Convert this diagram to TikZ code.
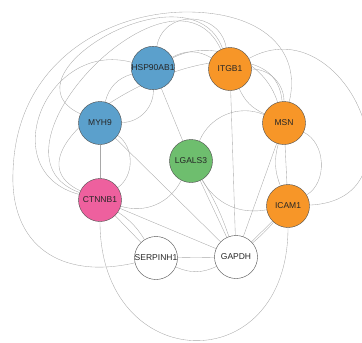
\documentclass[tikz,border=0pt]{standalone}
\usepackage{fontspec}
\setmainfont{Liberation Sans}
\usetikzlibrary{backgrounds}
\definecolor{nwBlue}{HTML}{5BA0CC}
\definecolor{nwOrange}{HTML}{F79628}
\definecolor{nwGreen}{HTML}{6EBE6E}
\definecolor{nwPink}{HTML}{EE609E}
\definecolor{nwLine}{HTML}{A8A8A8}
\definecolor{nwRim}{HTML}{4A4A4A}
\tikzset{
  gene/.style     ={circle,draw=nwRim,line width=0.4pt,minimum size=43pt,inner sep=0pt,
                    font=\fontsize{8.5}{9}\selectfont,text=black!85},
  geneBlue/.style ={gene,fill=nwBlue},
  geneOrange/.style={gene,fill=nwOrange},
  geneGreen/.style={gene,fill=nwGreen},
  genePink/.style ={gene,fill=nwPink},
  genePlain/.style={gene,fill=white},
  link/.style     ={nwLine,line width=0.35pt},
}

\begin{document}
\begin{tikzpicture}[x=1pt,y=1pt]
\useasboundingbox (0,0) rectangle (362,-343);
\node[geneBlue]   (hsp)   at (153,-68)  {HSP90AB1};
\node[geneOrange] (itgb)  at (230,-69)  {ITGB1};
\node[geneBlue]   (myh)   at (100,-123) {MYH9};
\node[geneOrange] (msn)   at (284,-123) {MSN};
\node[geneGreen]  (lgals) at (191,-161) {LGALS3};
\node[genePink]   (ctnnb) at (100,-200) {CTNNB1};
\node[geneOrange] (icam)  at (288,-206) {ICAM1};
\node[genePlain]  (serp)  at (156,-258) {SERPINH1};
\node[genePlain]  (gapdh) at (236,-257) {GAPDH};

\begin{scope}[on background layer]
% straight links
\foreach \a/\b in {hsp/lgals,myh/gapdh,ctnnb/gapdh,ctnnb/serp,serp/gapdh,
                   lgals/gapdh,itgb/gapdh,msn/gapdh,icam/gapdh,myh/ctnnb,msn/icam}
  { \draw[link] (\a) -- (\b); }
\draw[link] (lgals) to[bend left=6] (gapdh);
\draw[link] (icam) to[bend left=4] (gapdh);
\draw[link] (ctnnb) to[bend left=12] (serp);
\draw[link] (serp) to[bend right=25] (gapdh);
% inner arcs
\draw[link] (hsp) to[bend left=30] (itgb);
\draw[link] (hsp) to[out=80,in=100,looseness=1.4] (itgb);
\draw[link] (myh) to[bend left=30] (hsp);
\draw[link] (myh) to[bend right=45] (hsp);
\draw[link] (myh) to[bend left=55] (ctnnb);
\draw[link] (lgals) to[bend left=45] (msn);
\draw[link] (lgals) to[bend right=35] (icam);
\draw[link] (ctnnb) to[bend right=40] (lgals);
\draw[link] (msn) to[bend left=62] (icam);
\draw[link] (msn) to[bend right=18] (icam);
\draw[link] (itgb) to[bend left=45] (msn);
\draw[link] (itgb) to[bend right=20] (msn);
\draw[link] (hsp) to[bend left=50] (msn);
% outer arcs
\draw[link] (ctnnb) to[out=165,in=165,looseness=1.6] (hsp);
\draw[link] (ctnnb) to[out=160,in=115,looseness=1.45] (itgb);
\draw[link] (ctnnb) to[out=155,in=95,looseness=1.3] (msn);
\draw[link] (myh) to[out=155,in=110,looseness=1.5] (itgb);
\draw[link] (itgb) .. controls (345,-5) and (428,-200) .. (icam);
\draw[link] (icam) to[out=-90,in=-90,looseness=2.1] (ctnnb);
\draw[link] (serp) .. controls (60,-280) and (10,-245) .. (13,-172)
                   .. controls (16,-60) and (110,-12) .. (187,-12)
                   .. controls (262,-12) and (302,-50) .. (msn);
\end{scope}
\end{tikzpicture}
\end{document}
